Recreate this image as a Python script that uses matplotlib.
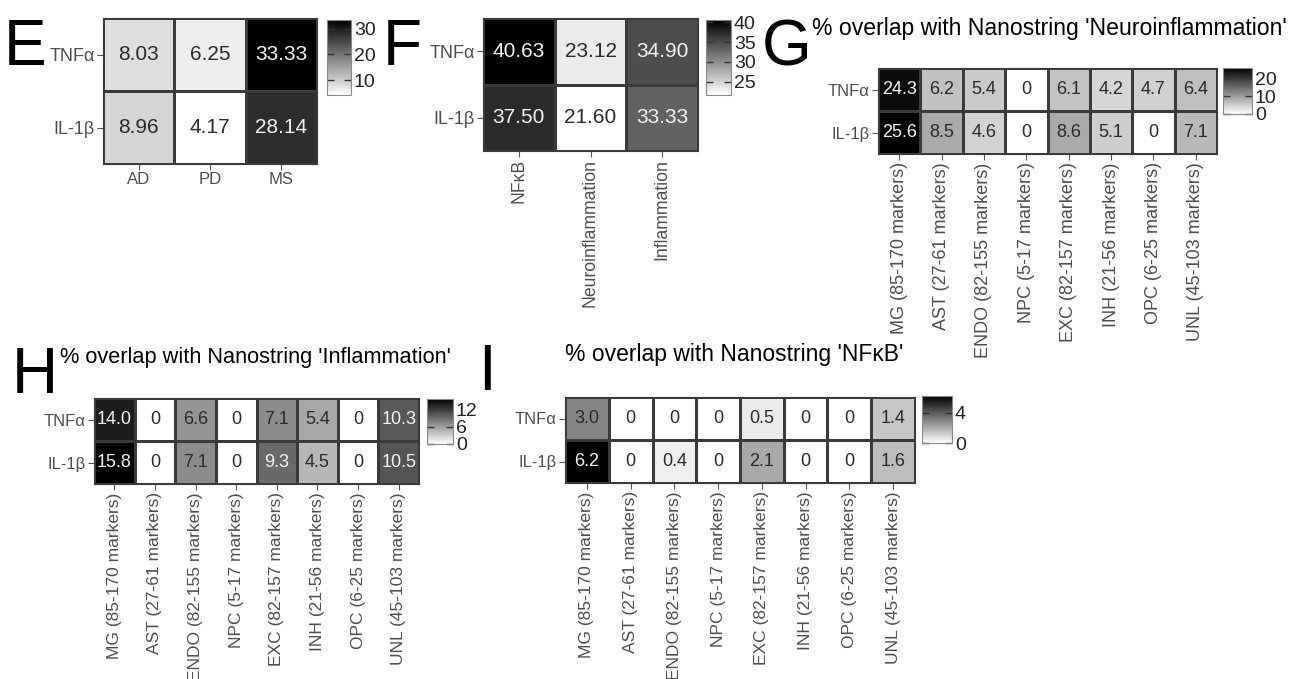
import matplotlib
matplotlib.use("Agg")
import matplotlib.pyplot as plt
from matplotlib.colors import LinearSegmentedColormap

plt.rcParams['font.family'] = ['Liberation Sans', 'DejaVu Sans']

# data
rows = ["TNFα", "IL-1β"]
disease_cols = ["AD", "PD", "MS"]
E_vals = [[8.03, 6.25, 33.33], [8.96, 4.17, 28.14]]
set_cols = ["NFκB", "Neuroinflammation", "Inflammation"]
F_vals = [[40.63, 23.12, 34.90], [37.50, 21.60, 33.33]]
cell_cols = ["MG (85-170 markers)", "AST (27-61 markers)", "ENDO (82-155 markers)",
             "NPC (5-17 markers)", "EXC (82-157 markers)", "INH (21-56 markers)",
             "OPC (6-25 markers)", "UNL (45-103 markers)"]
G_vals = [[24.3, 6.2, 5.4, 0, 6.1, 4.2, 4.7, 6.4], [25.6, 8.5, 4.6, 0, 8.6, 5.1, 0, 7.1]]
H_vals = [[14.0, 0, 6.6, 0, 7.1, 5.4, 0, 10.3], [15.8, 0, 7.1, 0, 9.3, 4.5, 0, 10.5]]
I_vals = [[3.0, 0, 0, 0, 0.5, 0, 0, 1.4], [6.2, 0, 0.4, 0, 2.1, 0, 0, 1.6]]
E_ticks = [10, 20, 30]
F_ticks = [25, 30, 35, 40]
G_ticks = [0, 10, 20]
H_ticks = [0, 6, 12]
I_ticks = [0, 4]

W, H = 1299, 679
fig = plt.figure(figsize=(W / 100, H / 100), dpi=100)
cmap = LinearSegmentedColormap.from_list("wb", ["#ffffff", "#000000"])
tick_grey = "#4d4d4d"


def box(l, t, r, b):
    return [l / W, 1 - b / H, (r - l) / W, (b - t) / H]


def heat(hbox, cbox, vals, cols, fmt, ticks, fs, xfs, yfs, rot=0):
    ax = fig.add_axes(box(*hbox))
    vmin = min(min(r) for r in vals)
    vmax = max(max(r) for r in vals)
    m = ax.pcolormesh(vals, cmap=cmap, vmin=vmin, vmax=vmax,
                      edgecolors="#3a3a3a", linewidth=0.8)
    ax.set_xlim(0, len(cols))
    ax.set_ylim(len(rows), 0)
    for i, r in enumerate(vals):
        for j, v in enumerate(r):
            frac = (v - vmin) / (vmax - vmin)
            ax.text(j + 0.5, i + 0.5, fmt(v), ha="center", va="center",
                    fontsize=fs, color="#f2f2f2" if frac > 0.55 else "#2a2a2a")
    ax.set_xticks([j + 0.5 for j in range(len(cols))])
    ax.set_xticklabels(cols, rotation=rot, color=tick_grey, fontsize=xfs)
    ax.set_yticks([0.5, 1.5])
    ax.set_yticklabels(rows, color=tick_grey, fontsize=yfs)
    ax.tick_params(length=4, color="#555555", pad=2)
    for s in ax.spines.values():
        s.set_color("#3a3a3a")
    cax = fig.add_axes(box(*cbox))
    cb = fig.colorbar(m, cax=cax, ticks=ticks)
    cb.outline.set_edgecolor("#888888")
    cax.tick_params(direction="in", length=5, width=1, color="#333333",
                    left=True, right=True, labelsize=14, labelcolor="#222222", pad=2)
    return ax


fmt2 = lambda v: "%.2f" % v
fmt1 = lambda v: "0" if v == 0 else "%.1f" % v

heat((103, 18, 317, 164), (327, 20, 351, 95), E_vals, disease_cols, fmt2, E_ticks, 15, 12, 13)
heat((483, 18, 698, 151), (706, 20, 731, 95), F_vals, set_cols, fmt2, F_ticks, 15, 12.7, 13, rot=90)
heat((878, 68, 1217, 154), (1223, 68, 1252, 114), G_vals, cell_cols, fmt1, G_ticks, 13, 13, 12, rot=90)
heat((94, 398, 419, 484), (427, 399, 453, 444), H_vals, cell_cols, fmt1, H_ticks, 13, 12.5, 12, rot=90)
heat((565, 397, 915, 483), (922, 396, 952, 443), I_vals, cell_cols, fmt1, I_ticks, 13, 12.5, 12, rot=90)

# panel letters
letter_font = ['Liberation Sans Narrow', 'Liberation Sans']
for lab, x, y in [("E", 4, 65), ("F", 383, 65), ("G", 762, 65), ("H", 12, 393), ("I", 478, 390)]:
    fig.text(x / W, 1 - y / H, lab, fontsize=46, va="baseline", ha="left", family=letter_font)

# panel titles
fig.text(812 / W, 1 - 28 / H, "% overlap with Nanostring 'Neuroinflammation'", fontsize=16.6, va="center")
fig.text(60 / W, 1 - 357 / H, "% overlap with Nanostring 'Inflammation'", fontsize=15.7, va="center")
fig.text(565 / W, 1 - 355 / H, "% overlap with Nanostring 'NFκB'", fontsize=16.5, va="center")

fig.savefig("out.png", dpi=100)
